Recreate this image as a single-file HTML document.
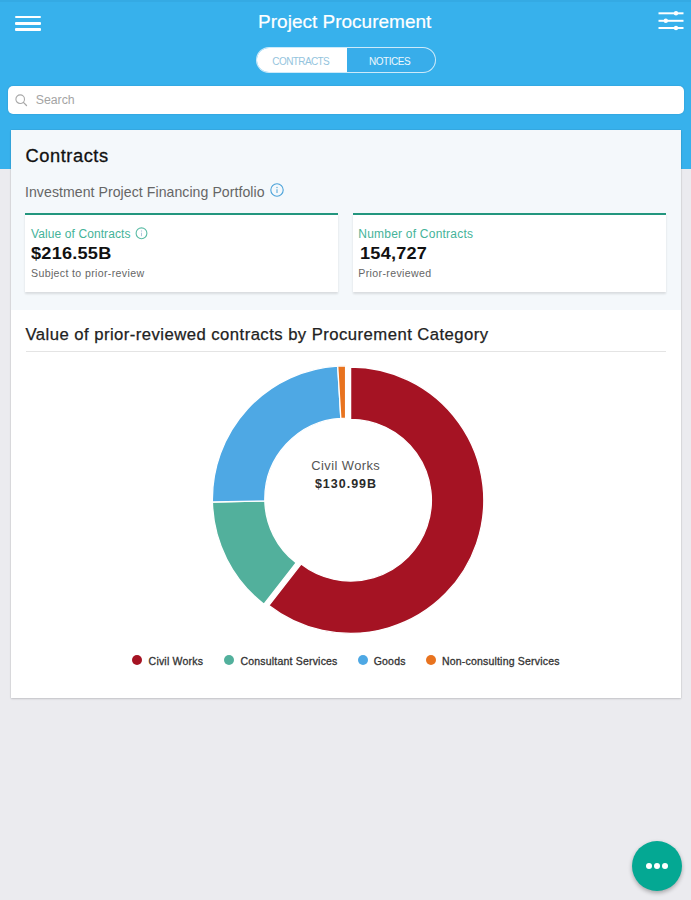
<!DOCTYPE html>
<html><head><meta charset="utf-8">
<style>
*{margin:0;padding:0;box-sizing:border-box}
html,body{width:691px;height:900px;overflow:hidden}
body{background:#ebebef;font-family:"Liberation Sans",sans-serif;position:relative}
.a{position:absolute;white-space:nowrap;line-height:1}
#hdr{left:0;top:0;width:691px;height:169px;background:#37b1ec}
#hdrtop{left:0;top:0;width:691px;height:2px;background:#34aae4}
.hb{left:15px;width:26px;height:2.5px;background:#fff;border-radius:1px}
#seg{left:255.5px;top:47px;width:180.5px;height:26.3px;border:1.5px solid rgba(255,255,255,0.75);border-radius:13.5px;overflow:hidden;background:#38adea}
#segl{left:0;top:0;width:90px;height:100%;background:#fff}
#search{left:8px;top:86.3px;width:676px;height:27.3px;background:#fff;border-radius:5px;box-shadow:0 0 1.5px rgba(0,40,80,0.25)}
#card{left:10.5px;top:130px;width:670.3px;height:568px;background:#fff;box-shadow:0 0 1.5px rgba(0,0,0,0.14),0 1px 2px rgba(0,0,0,0.14)}
#cardtop{left:10.5px;top:130px;width:670.3px;height:180px;background:#f4f8fb}
.sc{top:212.8px;width:312.8px;height:79.6px;background:#fff;border-top:2.5px solid #23967e;box-shadow:0 1.5px 2px rgba(0,0,0,0.11)}
.lbl{font-size:12px;color:#45b399;letter-spacing:0.2px}
.val{font-size:16.5px;font-weight:bold;color:#111;letter-spacing:0.2px;transform:scaleX(1.1);transform-origin:0 0}
.sub2{font-size:10.6px;color:#666;letter-spacing:0.35px}
#cdiv{left:26px;top:351.3px;width:640px;height:1px;background:#e4e4e4}
.lg{font-size:10.5px;color:#333;top:655.9px;letter-spacing:0.2px;-webkit-text-stroke:0.3px #333}
.dot{width:10px;height:10px;border-radius:50%;top:655.3px}
#fab{left:632px;top:841.3px;width:50px;height:50px;border-radius:50%;background:#04a893;box-shadow:0 2px 4px rgba(0,0,0,0.3)}
#fab .d{top:21.8px;width:6.4px;height:6.4px;border-radius:50%;background:#fff}
</style></head><body>
<div id="hdr" class="a"></div>
<div id="hdrtop" class="a"></div>
<div class="a hb" style="top:15.7px"></div>
<div class="a hb" style="top:22px"></div>
<div class="a hb" style="top:28.3px"></div>
<div class="a" style="left:0;width:691px;text-align:center;top:11.62px;font-size:19px;color:#fff;padding-right:1.6px;-webkit-text-stroke:0.2px #fff">Project Procurement</div>
<svg class="a" style="left:655px;top:8px" width="32" height="28" viewBox="655 8 32 28">
 <g stroke="#fff" stroke-width="2" fill="#fff">
  <line x1="658.5" y1="13.3" x2="683.5" y2="13.3"/>
  <line x1="658.5" y1="20.8" x2="683.5" y2="20.8"/>
  <line x1="658.5" y1="28" x2="683.5" y2="28"/>
  <circle cx="676" cy="13.3" r="2.2" stroke="none"/>
  <circle cx="665.8" cy="20.8" r="2.2" stroke="none"/>
  <circle cx="676" cy="28" r="2.2" stroke="none"/>
 </g>
</svg>
<div id="seg" class="a"><div id="segl" class="a"></div></div>
<div class="a" style="left:255.5px;width:90.5px;text-align:center;top:56.5px;font-size:10px;letter-spacing:-0.6px;color:#94c4dd">CONTRACTS</div>
<div class="a" style="left:344.6px;width:90px;text-align:center;top:56.5px;font-size:10px;letter-spacing:-0.5px;color:#eef8fd">NOTICES</div>
<div id="search" class="a"></div>
<svg class="a" style="left:15px;top:93.5px" width="14" height="14" viewBox="0 0 14 14"><circle cx="5.2" cy="5.2" r="4.3" fill="none" stroke="#a8a8a8" stroke-width="1.1"/><line x1="8.4" y1="8.4" x2="11.5" y2="11.5" stroke="#a8a8a8" stroke-width="1.3" stroke-linecap="round"/></svg>
<div class="a" style="left:35.7px;top:94px;font-size:12.3px;color:#a4a4a4">Search</div>
<div id="card" class="a"></div>
<div id="cardtop" class="a"></div>
<div class="a" style="left:25.5px;top:146.51px;font-size:18.3px;color:#111;letter-spacing:0.55px;-webkit-text-stroke:0.3px #111">Contracts</div>
<div class="a" style="left:25px;top:184.6px;font-size:14.1px;color:#666;letter-spacing:0.06px">Investment Project Financing Portfolio</div>
<svg class="a" style="left:269.7px;top:183.4px" width="14" height="14" viewBox="0 0 14 14"><circle cx="7" cy="7" r="6.2" fill="none" stroke="#4aa2d9" stroke-width="1.1"/><circle cx="7" cy="4.4" r="0.75" fill="#6ab2dd"/><line x1="7" y1="6.2" x2="7" y2="10" stroke="#5aaadb" stroke-width="1.1"/></svg>
<div class="a sc" style="left:25.4px"></div>
<div class="a sc" style="left:353.2px"></div>
<div class="a lbl" style="left:31px;top:227.8px;letter-spacing:0.1px">Value of Contracts</div>
<svg class="a" style="left:135px;top:227px" width="13" height="13" viewBox="0 0 13 13"><circle cx="6.5" cy="6.3" r="5.4" fill="none" stroke="#5cbca6" stroke-width="1.1"/><circle cx="6.5" cy="4" r="0.7" fill="#b8c8e0"/><line x1="6.5" y1="5.7" x2="6.5" y2="9.2" stroke="#b0c4dc" stroke-width="1"/></svg>
<div class="a val" style="left:31.3px;top:245.1px">$216.55B</div>
<div class="a sub2" style="left:31px;top:267.53px">Subject to prior-review</div>
<div class="a lbl" style="left:358.3px;top:227.8px;letter-spacing:0.22px">Number of Contracts</div>
<div class="a val" style="left:360px;top:245.1px">154,727</div>
<div class="a sub2" style="left:358.3px;top:267.53px">Prior-reviewed</div>
<div class="a" style="left:25.5px;top:326.6px;font-size:16.7px;color:#222;letter-spacing:0.45px;-webkit-text-stroke:0.25px #222">Value of prior-reviewed contracts by Procurement Category</div>
<div id="cdiv" class="a"></div>
<svg class="a" style="left:0;top:0" width="691" height="900" viewBox="0 0 691 900">
 <g stroke="#fff" stroke-width="1.3" stroke-linejoin="miter">
  <path fill="#a51323" d="M350.60,367.00A133.2,133.2 0 1 1 268.96,605.45L301.08,564.04A80.8,80.8 0 1 0 350.60,419.40Z"/>
  <path fill="#52b09c" d="M263.96,604.25A133.2,133.2 0 0 1 212.43,502.02L264.82,500.83A80.8,80.8 0 0 0 296.08,562.84Z"/>
  <path fill="#4ea8e4" d="M212.43,502.02A133.2,133.2 0 0 1 337.70,366.03L340.81,418.34A80.8,80.8 0 0 0 264.82,500.83Z"/>
  <path fill="#e8731f" d="M337.70,366.03A133.2,133.2 0 0 1 345.60,365.80L345.60,418.20A80.8,80.8 0 0 0 340.81,418.34Z"/>
 </g>
</svg>
<div class="a" style="left:0;width:691px;text-align:center;top:460.3px;font-size:12.9px;color:#555;letter-spacing:0.44px;padding-left:0.44px">Civil Works</div>
<div class="a" style="left:0;width:691px;text-align:center;top:477.5px;font-size:12.5px;font-weight:bold;color:#2a2a2a;letter-spacing:1px;padding-left:1px">$130.99B</div>
<div class="a dot" style="left:132.2px;background:#a51323"></div>
<div class="a lg" style="left:148.6px">Civil Works</div>
<div class="a dot" style="left:223.8px;background:#52b09c"></div>
<div class="a lg" style="left:240.4px">Consultant Services</div>
<div class="a dot" style="left:357.6px;background:#4ea8e4"></div>
<div class="a lg" style="left:373.7px">Goods</div>
<div class="a dot" style="left:425.5px;background:#e8731f"></div>
<div class="a lg" style="left:441.9px">Non-consulting Services</div>
<div id="fab" class="a">
 <div class="a d" style="left:13.5px"></div>
 <div class="a d" style="left:21.8px"></div>
 <div class="a d" style="left:30.1px"></div>
</div>
</body></html>
